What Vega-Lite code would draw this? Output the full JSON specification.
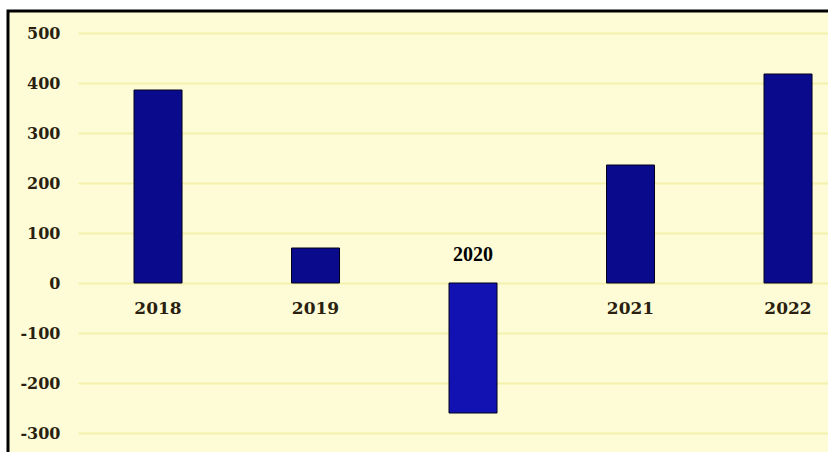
{
  "$schema": "https://vega.github.io/schema/vega-lite/v6.json",
  "width": 822,
  "height": 445,
  "autosize": {"type": "none"},
  "padding": {"left": 8, "top": 11, "right": 0, "bottom": 0},
  "background": "#ffffff",
  "view": {"fill": "#fdfcd6", "stroke": "#000000", "strokeWidth": 3},
  "data": {"values": [
    {"year": "2018", "value": 386},
    {"year": "2019", "value": 70},
    {"year": "2020", "value": -260},
    {"year": "2021", "value": 236},
    {"year": "2022", "value": 418}
  ]},
  "encoding": {
    "x": {"field": "year", "type": "nominal", "sort": null,
      "scale": {"range": [70, 822], "paddingInner": 0.6952, "paddingOuter": 0.2349, "align": 0.757},
      "axis": null}
  },
  "layer": [
    {
      "mark": {"type": "bar", "stroke": "#00001a", "strokeWidth": 1},
      "encoding": {
        "y": {"field": "value", "type": "quantitative",
          "scale": {"domain": [-346, 544], "nice": false, "zero": false},
          "axis": {"orient": "left", "offset": -52, "values": [-300, -200, -100, 0, 100, 200, 300, 400, 500],
            "labelExpr": "(datum.value < 0 ? '-' : '') + abs(datum.value)",
            "title": null, "domain": false, "ticks": false, "labelPadding": 0,
            "labelFont": "DejaVu Serif", "labelFontWeight": "bold", "labelFontSize": 16, "labelColor": "#2a1f10",
            "grid": true, "gridColor": "#f4f1ae", "gridWidth": 2}},
        "color": {"condition": {"test": "datum.value < 0", "value": "#1212b2"}, "value": "#0a0a8c"}
      }
    },
    {
      "transform": [{"filter": "datum.value >= 0"}],
      "mark": {"type": "text", "dy": 26, "font": "DejaVu Serif", "fontWeight": "bold", "fontSize": 17, "color": "#2a1f10", "baseline": "middle"},
      "encoding": {"y": {"datum": 0, "type": "quantitative"}, "text": {"field": "year"}}
    },
    {
      "transform": [{"filter": "datum.value < 0"}],
      "mark": {"type": "text", "dy": -28, "font": "Liberation Serif", "fontWeight": "bold", "fontSize": 20, "color": "#000000", "baseline": "middle"},
      "encoding": {"y": {"datum": 0, "type": "quantitative"}, "text": {"field": "year"}}
    }
  ]
}
